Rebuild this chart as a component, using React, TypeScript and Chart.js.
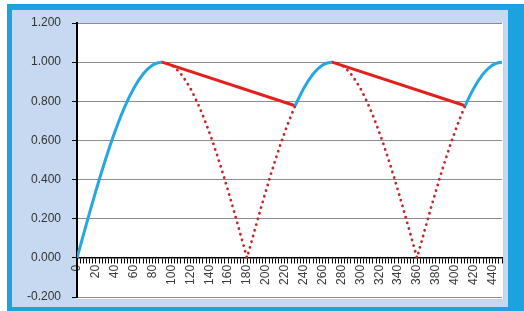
import React, { useEffect, useRef } from "react";
import { Chart, registerables } from "chart.js";

Chart.register(...registerables);

// Blue: supply (rising sine) segments
const blueX = [0, 5, 10, 15, 20, 25, 30, 35, 40, 45, 50, 55, 60, 65, 70, 75, 80, 85, 90, 150, 231, 235, 240, 245, 250, 255, 260, 265, 270, 340, 411, 415, 420, 425, 430, 435, 440, 445, 450];
const blueY = [0, 0.087, 0.174, 0.259, 0.342, 0.423, 0.5, 0.574, 0.643, 0.707, 0.766, 0.819, 0.866, 0.906, 0.94, 0.966, 0.985, 0.996, 1.0, null, 0.777, 0.819, 0.866, 0.906, 0.94, 0.966, 0.985, 0.996, 1.0, null, 0.777, 0.819, 0.866, 0.906, 0.94, 0.966, 0.985, 0.996, 1.0];

// Red solid: discharge segments
const redX = [90, 231, 250, 270, 411];
const redY = [1.0, 0.777, null, 1.0, 0.777];

// Red dotted: rectified wave
const dotX = [90, 95, 100, 105, 110, 115, 120, 125, 130, 135, 140, 145, 150, 155, 160, 165, 170, 175, 180, 185, 190, 195, 200, 205, 210, 215, 220, 225, 230, 231, 250, 270, 275, 280, 285, 290, 295, 300, 305, 310, 315, 320, 325, 330, 335, 340, 345, 350, 355, 360, 365, 370, 375, 380, 385, 390, 395, 400, 405, 410, 411];
const dotY = [1.0, 0.996, 0.985, 0.966, 0.94, 0.906, 0.866, 0.819, 0.766, 0.707, 0.643, 0.574, 0.5, 0.423, 0.342, 0.259, 0.174, 0.087, 0, 0.087, 0.174, 0.259, 0.342, 0.423, 0.5, 0.574, 0.643, 0.707, 0.766, 0.777, null, 1.0, 0.996, 0.985, 0.966, 0.94, 0.906, 0.866, 0.819, 0.766, 0.707, 0.643, 0.574, 0.5, 0.423, 0.342, 0.259, 0.174, 0.087, 0, 0.087, 0.174, 0.259, 0.342, 0.423, 0.5, 0.574, 0.643, 0.707, 0.766, 0.777];

const X_MIN = 0;
const X_MAX = 450;
const X_STEP = 10 / 3;
const X_LABEL_EVERY = 20;
const Y_MIN = -0.2;
const Y_MAX = 1.2;
const Y_STEP = 0.2;

const pts = (xs: number[], ys: (number | null)[]) => xs.map((x, i) => ({ x, y: ys[i] }));

const plotBg = {
  id: "plotBg",
  beforeDraw(chart: any) {
    const { ctx, chartArea } = chart;
    ctx.save();
    ctx.fillStyle = "#ffffff";
    ctx.fillRect(chartArea.left, chartArea.top, chartArea.right - chartArea.left + 1, chartArea.bottom - chartArea.top + 2);
    ctx.strokeStyle = "#cfcfcf";
    ctx.lineWidth = 1;
    ctx.beginPath();
    ctx.moveTo(chartArea.right + 1.5, chartArea.top);
    ctx.lineTo(chartArea.right + 1.5, chartArea.bottom + 2.5);
    ctx.lineTo(chartArea.left, chartArea.bottom + 2.5);
    ctx.stroke();
    ctx.restore();
  },
};

export default function App() {
  const ref = useRef<HTMLCanvasElement>(null);
  useEffect(() => {
    if (!ref.current) return;
    const font = { family: "'Liberation Sans', Arial, sans-serif", size: 12 };
    const chart = new Chart(ref.current, {
      type: "line",
      data: {
        datasets: [
          {
            data: pts(blueX, blueY) as any,
            borderColor: "#25A7DF",
            borderWidth: 3,
            pointRadius: 0,
            spanGaps: false,
            tension: 0,
          },
          {
            data: pts(redX, redY) as any,
            borderColor: "#E3201C",
            borderWidth: 3,
            pointRadius: 0,
            spanGaps: false,
          },
          {
            data: pts(dotX, dotY) as any,
            borderColor: "#C2282A",
            borderWidth: 2.8,
            borderDash: [0.1, 5.8],
            borderCapStyle: "round",
            pointRadius: 0,
            spanGaps: false,
          },
        ],
      },
      options: {
        animation: false,
        responsive: false,
        layout: { padding: { left: 0, right: 6, top: 13, bottom: 10 } },
        plugins: { legend: { display: false }, tooltip: { enabled: false } },
        scales: {
          x: {
            type: "linear",
            min: X_MIN,
            max: X_MAX,
            position: { y: 0 } as any,
            grid: { drawOnChartArea: false, drawTicks: true, tickLength: 5, color: "#000", tickColor: "#000" },
            border: { display: true, color: "#000", width: 1.5 },
            ticks: {
              stepSize: X_STEP,
              autoSkip: false,
              minRotation: 90,
              maxRotation: 90,
              padding: 2,
              color: "#3a3a3a",
              font,
              callback: (v: any) => {
                const r = Math.round(v / X_LABEL_EVERY) * X_LABEL_EVERY;
                return Math.abs(v - r) < 0.01 ? String(r) : "";
              },
            },
            afterFit: (s: any) => {
              s.paddingLeft = 0;
              s.paddingRight = 0;
              s.paddingTop = 0;
              s.paddingBottom = 0;
            },
          },
          y: {
            min: Y_MIN,
            max: Y_MAX,
            grid: {
              color: (c: any) => (c.tick && Math.abs(c.tick.value) < 1e-6 ? "#000" : "#8c8c8c"),
              tickColor: "#000",
              tickLength: 5,
              lineWidth: 1,
            },
            border: { display: true, color: "#000", width: 2 },
            ticks: {
              stepSize: Y_STEP,
              padding: 11,
              color: "#333",
              font,
              callback: (v: any) => {
                const n = Math.abs(Number(v)) < 1e-9 ? 0 : Number(v);
                return n.toFixed(3);
              },
            },
            afterFit: (s: any) => {
              s.width = 65;
              s.paddingTop = 0;
              s.paddingBottom = 0;
            },
          },
        },
      },
      plugins: [plotBg],
    });
    return () => chart.destroy();
  }, []);

  return (
    <div style={{ position: "fixed", left: 0, top: 0, width: 524, height: 311, background: "#fff", overflow: "hidden" }}>
      <div style={{ position: "absolute", left: 7, top: 4, width: 530, height: 320, background: "#1BA2DF" }} />
      <div style={{ position: "absolute", left: 12, top: 10, width: 496, height: 297, background: "#C6D9F0" }}>
        <canvas ref={ref} width={496} height={297} style={{ display: "block" }} />
      </div>
    </div>
  );
}
